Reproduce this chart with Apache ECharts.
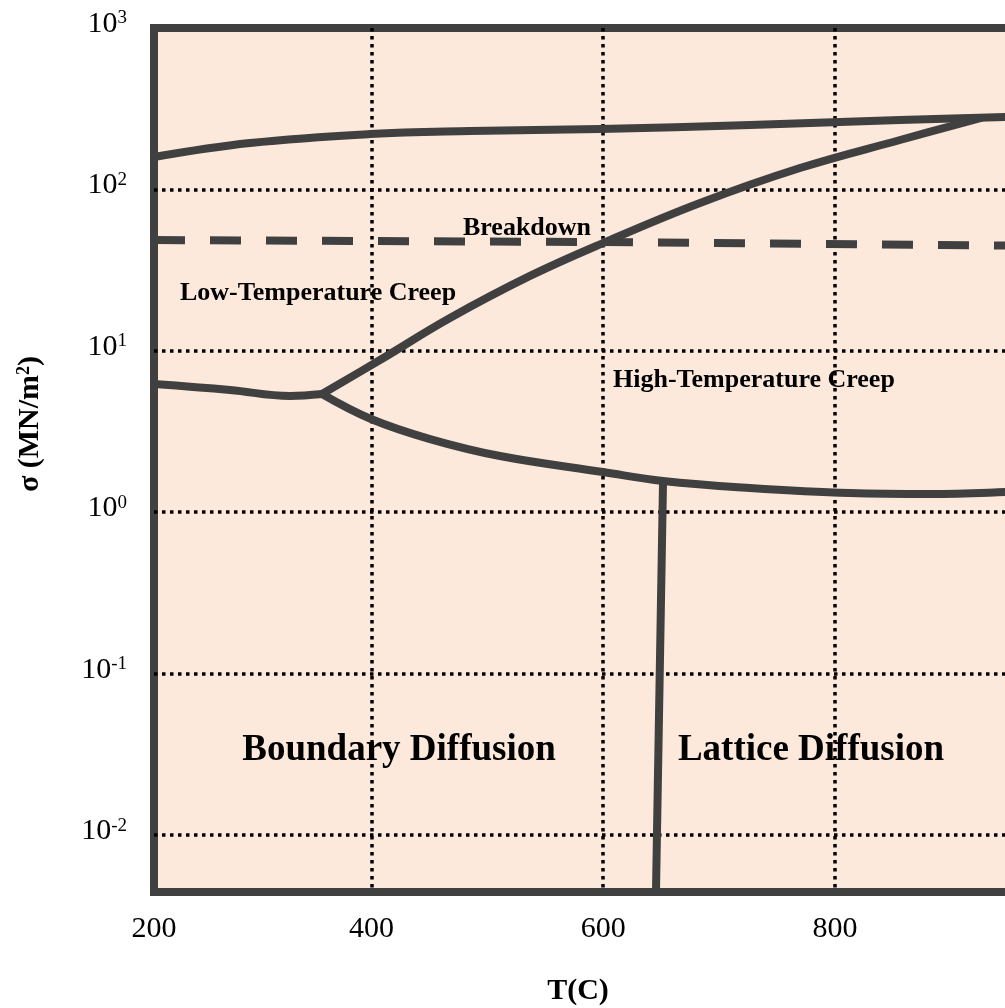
<!DOCTYPE html>
<html>
<head>
<meta charset="utf-8">
<script src="https://cdn.jsdelivr.net/npm/echarts@6/dist/echarts.min.js"></script>
<style>
  html, body { margin: 0; padding: 0; background: #ffffff; }
  #chart { width: 1005px; height: 1008px; }
</style>
</head>
<body>
<div id="chart"></div>
<script>
// Temperature axis, °C
const tempMin = 212.3;
const tempMax = 1000;
const tempGridValues = [400, 600, 800];
const tempLabelValues = [tempMin, 400, 600, 800];
const tempTickLabels = ['200', '400', '600', '800'];

// Stress axis, MN/m², logarithmic
const stressMin = 0.00444;
const stressMax = 1000;
const stressGridValues = [0.01, 0.1, 1, 10, 100];
const stressLabelValues = [0.01, 0.1, 1, 10, 100, 1000];

// Field boundaries as [T (°C), σ (MN/m²)]
const idealStrength = [[212.3, 158.8], [295.1, 193.9], [398.7, 220.4], [485.0, 230.0], [597.2, 236.7], [726.6, 250.6], [856.1, 269.2], [946.7, 281], [1000, 289]];
const breakdown = [[212.3, 48.6], [600, 47.2], [1000, 44.6]];
const lowTempBoundary = [[212.3, 6.23], [277.9, 5.72], [329.7, 5.25], [357.3, 5.40]];
const creepUpper = [[357.3, 5.40], [407.3, 8.77], [467.7, 15.97], [536.8, 29.1], [599.8, 46.5], [683.5, 82.4], [769.8, 135.7], [856.1, 202.4], [926.9, 278]];
const creepLower = [[357.3, 5.40], [399.6, 3.78], [450.5, 2.84], [510.9, 2.23], [599.8, 1.775], [651.6, 1.561], [726.6, 1.413], [812.9, 1.315], [882.0, 1.297], [946.7, 1.334], [1000, 1.393]];
const diffusionSplit = [[651.6, 1.561], [645.5, 0.00444]];

// Field names: [text, x, y, size, align]
const fieldNames = [
  ['Breakdown', 527, 228, 26, 'center'],
  ['Low-Temperature Creep', 180, 293, 26, 'left'],
  ['High-Temperature Creep', 613, 380, 26, 'left'],
  ['Boundary Diffusion', 399, 750, 37, 'center'],
  ['Lattice Diffusion', 811, 750, 37, 'center']
];

const FONT = '"Liberation Serif", "Times New Roman", serif';
const INK = '#404040';

const chart = echarts.init(document.getElementById('chart'), null, { renderer: 'canvas' });

function boundary(data, extra) {
  return Object.assign({
    type: 'line',
    data: data,
    showSymbol: false,
    symbol: 'none',
    smooth: 0.4,
    silent: true,
    lineStyle: { color: INK, width: 8, cap: 'butt', join: 'round' },
    z: 5
  }, extra || {});
}

const dotted = { color: '#000000', width: 3.5, type: [3.5, 4.5] };

chart.setOption({
  animation: false,
  backgroundColor: '#ffffff',
  grid: {
    left: 154,
    top: 28,
    bottom: 116,
    right: -61.75,
    show: true,
    backgroundColor: '#FCE9DC',
    borderColor: INK,
    borderWidth: 8,
    containLabel: false,
    outerBoundsMode: 'none'
  },
  xAxis: {
    type: 'value',
    min: tempMin,
    max: tempMax,
    axisLine: { show: false },
    axisTick: { show: false, customValues: tempGridValues },
    splitLine: { show: true, lineStyle: dotted },
    axisLabel: {
      customValues: tempLabelValues,
      margin: 22,
      color: '#000000',
      fontFamily: FONT,
      fontSize: 30,
      formatter: function (v) {
        const i = tempLabelValues.findIndex(function (t) { return Math.abs(t - v) < 1e-6; });
        return i >= 0 ? tempTickLabels[i] : '';
      }
    }
  },
  yAxis: {
    type: 'log',
    logBase: 10,
    min: stressMin,
    max: stressMax,
    axisLine: { show: false },
    axisTick: { show: false, customValues: stressGridValues },
    splitLine: { show: true, lineStyle: dotted },
    axisLabel: {
      customValues: stressLabelValues,
      margin: 27,
      color: '#000000',
      fontFamily: FONT,
      fontSize: 30,
      lineHeight: 30,
      padding: [0, 0, 8, 0],
      formatter: function (v) {
        const e = Math.round(Math.log10(v));
        return '10{sup|' + e + '}';
      },
      rich: {
        sup: { fontFamily: FONT, fontSize: 19, color: '#000000', verticalAlign: 'top', lineHeight: 30 }
      }
    }
  },
  series: [
    boundary(idealStrength),
    boundary(breakdown, { smooth: false, lineStyle: { color: INK, width: 8, type: [31, 25] } }),
    boundary(lowTempBoundary),
    boundary(creepUpper),
    boundary(creepLower),
    boundary(diffusionSplit, { smooth: false })
  ],
  graphic: fieldNames.map(function (f) {
    return {
      type: 'text',
      x: f[1],
      y: f[2],
      z: 10,
      silent: true,
      style: {
        text: f[0],
        fill: '#000000',
        fontFamily: FONT,
        fontWeight: 'bold',
        fontSize: f[3],
        align: f[4],
        verticalAlign: 'middle'
      }
    };
  }).concat([
    {
      type: 'text',
      x: 578,
      y: 991,
      silent: true,
      style: {
        text: 'T(C)',
        fill: '#000000',
        fontFamily: FONT,
        fontWeight: 'bold',
        fontSize: 30,
        align: 'center',
        verticalAlign: 'middle'
      }
    },
    {
      type: 'text',
      x: 30,
      y: 424,
      rotation: Math.PI / 2,
      silent: true,
      style: {
        text: 'σ (MN/m{sup|2})',
        fill: '#000000',
        fontFamily: FONT,
        fontWeight: 'bold',
        fontSize: 30,
        align: 'center',
        verticalAlign: 'middle',
        rich: {
          sup: { fontFamily: FONT, fontWeight: 'bold', fontSize: 18, fill: '#000000', verticalAlign: 'top', lineHeight: 30 }
        }
      }
    }
  ])
});
</script>
</body>
</html>
